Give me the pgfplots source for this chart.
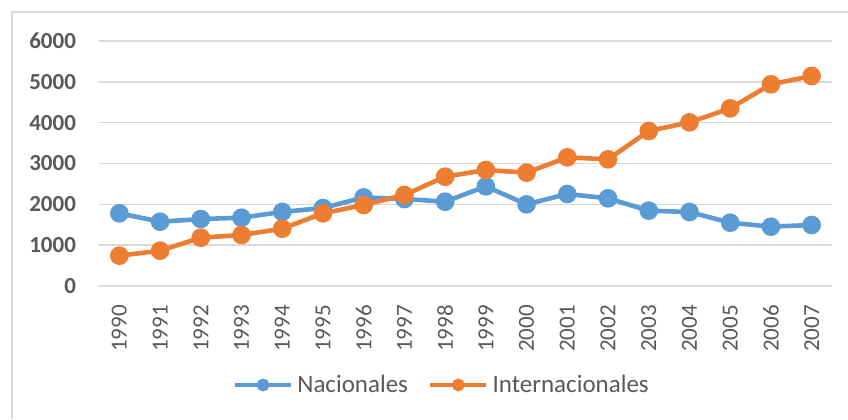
\documentclass[border=0pt]{standalone}
\usepackage{fontspec}
\setmainfont{Carlito}
\usepackage{pgfplots}
\pgfplotsset{compat=1.18}
\definecolor{nacblue}{HTML}{5B9BD5}
\definecolor{intorange}{HTML}{ED7D31}
\definecolor{gridgray}{HTML}{D9D9D9}
\definecolor{labelgray}{HTML}{595959}

\pgfplotstableread{
idx nac int
0  1780  742
1  1575  865
2  1640 1183
3  1673 1249
4  1815 1404
5  1910 1780
6  2170 1984
7  2130 2229
8  2065 2677
9  2440 2841
10 2000 2776
11 2253 3151
12 2147 3102
13 1845 3796
14 1812 4008
15 1550 4351
16 1453 4939
17 1494 5143
}\datatable

\begin{document}
\begin{tikzpicture}
% pixel -> pt: 0.5pt per px, y measured from bottom (419 px tall)
\useasboundingbox (0,0) rectangle (424pt,209.5pt);
\draw[gridgray, line width=1pt] (6pt,0) -- (6pt,203.5pt) -- (424pt,203.5pt);
\begin{axis}[
    at={(49.5pt,66.5pt)}, anchor=south west,
    scale only axis, width=366.5pt, height=122.5pt,
    xmin=-0.5, xmax=17.5, ymin=0, ymax=6000,
    xtick={0,...,17},
    xticklabels={1990,1991,1992,1993,1994,1995,1996,1997,1998,1999,2000,2001,2002,2003,2004,2005,2006,2007},
    ytick={0,1000,...,6000},
    axis line style={draw=none},
    ymajorgrids, grid style={gridgray, line width=0.75pt},
    major tick length=0pt,
    tick label style={font=\fontsize{11.5}{12}\selectfont, text=labelgray},
    yticklabel style={font=\fontsize{11.5}{12}\selectfont\bfseries},
    xticklabel style={rotate=90, anchor=east},
    xticklabel shift=6pt,
    yticklabel shift=8pt,
    /pgf/number format/assume math mode=true,
    /pgf/number format/1000 sep={},
    clip=false,
    legend columns=2,
    legend style={at={(0.469,-0.404)}, anchor=center, draw=none, fill=none,
        font=\fontsize{12.5}{13}\selectfont, text=labelgray,
        /tikz/every even column/.append style={column sep=8pt}},
    legend image code/.code={\draw[#1, mark size=2pt, mark repeat=2, mark phase=2]
        plot coordinates {(0pt,0pt) (14pt,0pt) (28pt,0pt)};},
]
\addplot[nacblue, line width=2.3pt, mark=*, mark size=3.5pt, mark options={solid}]
    table[x=idx, y=nac] {\datatable};
\addlegendentry{Nacionales}
\addplot[intorange, line width=2.3pt, mark=*, mark size=3.5pt, mark options={solid}]
    table[x=idx, y=int] {\datatable};
\addlegendentry{Internacionales}
\end{axis}
\end{tikzpicture}
\end{document}
